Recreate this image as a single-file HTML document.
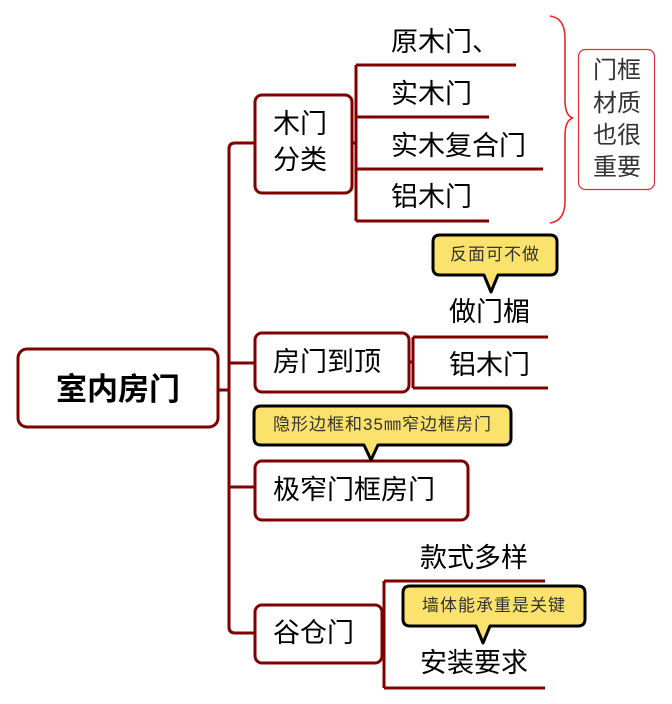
<!DOCTYPE html>
<html><head><meta charset="utf-8">
<style>
html,body{margin:0;padding:0;background:#fff;}
body{width:672px;height:704px;position:relative;overflow:hidden;font-family:"Liberation Sans","Noto Sans CJK SC",sans-serif;}
svg{position:absolute;left:0;top:0;}
.t{position:absolute;font-size:27px;line-height:36px;height:36px;color:#000;white-space:nowrap;}
.c{position:absolute;font-size:17px;line-height:22px;letter-spacing:1px;color:#333;white-space:nowrap;text-align:center;}
.n{position:absolute;font-size:24px;line-height:32px;color:#333;white-space:nowrap;}
</style></head><body>
<svg width="672" height="704" viewBox="0 0 672 704">
<g fill="none" stroke="#800000" stroke-width="3">
<!-- trunk -->
<path d="M254,143 H235 Q229,143 229,149 V627 Q229,633 235,633 H254"/>
<path d="M218,390 H229"/>
<path d="M229,363 H254"/>
<path d="M229,487 H254"/>
<!-- 木门分类 sub -->
<path d="M352,143 H356"/>
<path d="M356,65 V221"/>
<path d="M356,65 H516"/>
<path d="M356,117 H489"/>
<path d="M356,169 H543"/>
<path d="M356,221 H489"/>
<!-- 房门到顶 sub -->
<path d="M409,362 H413"/>
<path d="M413,337 V388"/>
<path d="M413,337 H548"/>
<path d="M413,388 H548"/>
<!-- 谷仓门 sub -->
<path d="M382,633 H384"/>
<path d="M384,581 V688"/>
<path d="M384,581 H545"/>
<path d="M384,688 H545"/>
</g>
<!-- boxes -->
<g fill="#fff" stroke="#800000" stroke-width="3">
<rect x="18" y="349" width="200" height="78" rx="9"/>
<rect x="255" y="95" width="97" height="98" rx="7"/>
<rect x="255" y="333" width="154" height="59" rx="7"/>
<rect x="255" y="461" width="213" height="59" rx="7"/>
<rect x="255" y="605" width="127" height="58" rx="7"/>
</g>
<!-- brace -->
<path d="M550,16 Q565,18 565,38 V100 Q565,116 573,118 Q565,120 565,136 V201 Q565,221 550,223" fill="none" stroke="#e8262e" stroke-width="1.6"/>
<!-- note box -->
<rect x="578.5" y="49.5" width="76" height="140" rx="7" fill="#fff" stroke="#e0303a" stroke-width="1.2"/>
<!-- callouts -->
<g fill="#fbe26c" stroke="#000" stroke-width="3" stroke-linejoin="round">
<path d="M440,235 H550 Q557,235 557,242 V268 Q557,275 550,275 H498 L491,292 L484,275 H440 Q433,275 433,268 V242 Q433,235 440,235 Z"/>
<path d="M261,406 H504 Q511,406 511,413 V438 Q511,445 504,445 H378 L371,460 L364,445 H261 Q254,445 254,438 V413 Q254,406 261,406 Z"/>
<path d="M410,586 H578 Q585,586 585,593 V619 Q585,626 578,626 H490 L483,643 L476,626 H410 Q403,626 403,619 V593 Q403,586 410,586 Z"/>
</g>
</svg>

<div class="t" style="left:18px;width:200px;top:370px;text-align:center;font-weight:bold;font-size:31px;line-height:40px;height:40px;">室内房门</div>

<div class="t" style="left:273px;top:106px;">木门</div>
<div class="t" style="left:273px;top:142px;">分类</div>

<div class="t" style="left:391px;top:24px;">原木门、</div>
<div class="t" style="left:391px;top:76px;">实木门</div>
<div class="t" style="left:391px;top:128px;">实木复合门</div>
<div class="t" style="left:391px;top:179px;">铝木门</div>

<div class="n" style="left:593px;top:55px;">门框</div>
<div class="n" style="left:593px;top:88px;">材质</div>
<div class="n" style="left:593px;top:120px;">也很</div>
<div class="n" style="left:593px;top:152px;">重要</div>

<div class="c" style="left:433px;width:124px;top:244px;">反面可不做</div>
<div class="t" style="left:449px;top:294px;">做门楣</div>
<div class="t" style="left:273px;top:344px;">房门到顶</div>
<div class="t" style="left:449px;top:347px;">铝木门</div>

<div class="c" style="left:254px;width:257px;top:414px;">隐形边框和35㎜窄边框房门</div>
<div class="t" style="left:273px;top:472px;">极窄门框房门</div>

<div class="t" style="left:420px;top:540px;">款式多样</div>
<div class="c" style="left:403px;width:182px;top:595px;">墙体能承重是关键</div>
<div class="t" style="left:273px;top:615px;">谷仓门</div>
<div class="t" style="left:420px;top:645px;">安装要求</div>
</body></html>
